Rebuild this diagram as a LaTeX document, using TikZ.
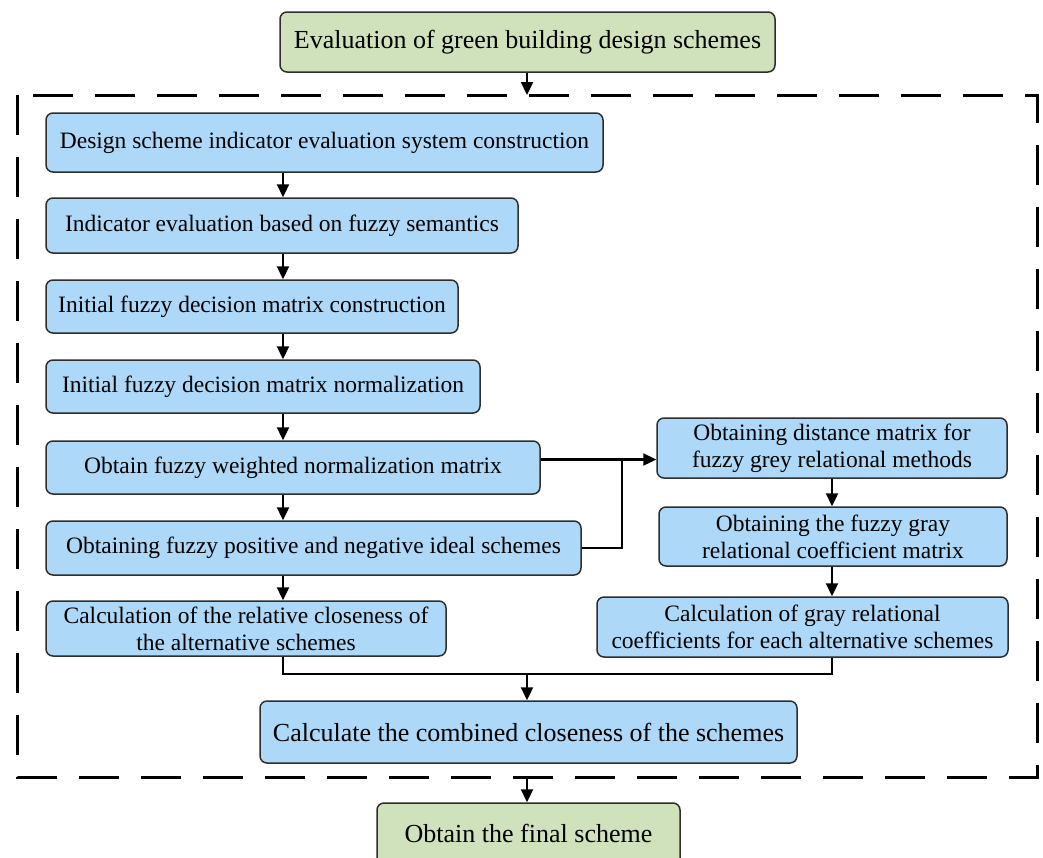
\documentclass[tikz,border=0pt]{standalone}
\usepackage{fontspec}
\setmainfont{Liberation Serif}
\usetikzlibrary{arrows.meta}
\definecolor{bluefill}{RGB}{173,216,247}
\definecolor{greenfill}{RGB}{208,226,187}
\definecolor{edgegray}{RGB}{45,45,45}
\tikzset{
  boxbase/.style={draw=edgegray, line width=1.5pt, rounded corners=7pt, align=center, inner sep=2pt,
    font=\fontsize{23.5}{27}\selectfont},
  bluebox/.style={boxbase, fill=bluefill},
  greenbox/.style={boxbase, fill=greenfill, font=\fontsize{26}{30}\selectfont},
  bigblue/.style={bluebox, font=\fontsize{26}{30}\selectfont},
  arr/.style={line width=2.3pt, -{Triangle[length=13pt,width=12pt]}},
  ln/.style={line width=2.3pt},
  dashbox/.style={line width=3pt, dash pattern=on 40pt off 22pt}
}
\begin{document}
\begin{tikzpicture}[x=1pt,y=-1pt]
\useasboundingbox (0,0) rectangle (1043,857);
\begin{scope}
\clip (0,0) rectangle (1043,857);
\node[greenbox, minimum width=495pt, minimum height=60pt] (top) at (527.5,42) {Evaluation of green building design schemes};
\coordinate (dtl) at (17,95);
\coordinate (dbr) at (1037,777);
\draw[dashbox] (dtl) rectangle (dbr);
\node[bluebox, minimum width=557pt, minimum height=59pt] (b1) at (324.5,142.5) {Design scheme indicator evaluation system construction};
\node[bluebox, minimum width=472pt, minimum height=55pt] (b2) at (282,225.5) {Indicator evaluation based on fuzzy semantics};
\node[bluebox, minimum width=412pt, minimum height=53pt] (b3) at (252,306.5) {Initial fuzzy decision matrix construction};
\node[bluebox, minimum width=434pt, minimum height=53pt] (b4) at (263,386.5) {Initial fuzzy decision matrix normalization};
\node[bluebox, minimum width=494pt, minimum height=53pt] (b5) at (293,467.5) {Obtain fuzzy weighted normalization matrix};
\node[bluebox, minimum width=535pt, minimum height=54pt] (b6) at (313.5,548) {Obtaining fuzzy positive and negative ideal schemes};
\node[bluebox, minimum width=400pt, minimum height=55pt] (b7) at (246,628.5) {Calculation of the relative closeness of\\the alternative schemes};
\node[bluebox, minimum width=350pt, minimum height=60pt] (r1) at (832,448) {Obtaining distance matrix for\\fuzzy grey relational methods};
\node[bluebox, minimum width=348pt, minimum height=59pt] (r2) at (833,536.5) {Obtaining the fuzzy gray\\relational coefficient matrix};
\node[bluebox, minimum width=411pt, minimum height=60pt] (r3) at (802.5,627) {Calculation of gray relational\\coefficients for each alternative schemes};
\node[bigblue, minimum width=537pt, minimum height=62pt] (comb) at (528.5,732) {Calculate the combined closeness of the schemes};
\node[greenbox, minimum width=303pt, minimum height=72pt] (fin) at (528.5,839) {};
\node[font=\fontsize{26}{30}\selectfont] (fintxt) at (528.5,833) {Obtain the final scheme};
% connectors
\coordinate (lx) at (283,0);
\coordinate (rx) at (832,0);
\coordinate (jx) at (622,0);
\coordinate (mid) at (527,0);
\draw[arr] (top.south -| mid) -- (dtl -| mid);
\draw[arr] (b1.south -| lx) -- (b2.north -| lx);
\draw[arr] (b2.south -| lx) -- (b3.north -| lx);
\draw[arr] (b3.south -| lx) -- (b4.north -| lx);
\draw[arr] (b4.south -| lx) -- (b5.north -| lx);
\draw[arr] (b5.south -| lx) -- (b6.north -| lx);
\draw[arr] (b6.south -| lx) -- (b7.north -| lx);
\coordinate (b5o) at ([yshift=8pt]b5.east);
\draw[arr] (b5o) -- (b5o -| r1.west);
\draw[ln] (b6.east) -| (b5o -| jx);
\draw[arr] (r1.south -| rx) -- (r2.north -| rx);
\draw[arr] (r2.south -| rx) -- (r3.north -| rx);
\coordinate (my) at (0,674);
\draw[ln] (b7.south -| lx) -- (my -| lx) -- (my -| rx) -- (r3.south -| rx);
\draw[arr] (my -| mid) -- (comb.north -| mid);
\draw[arr] (dbr -| mid) -- (fin.north -| mid);
\end{scope}
\end{tikzpicture}
\end{document}
